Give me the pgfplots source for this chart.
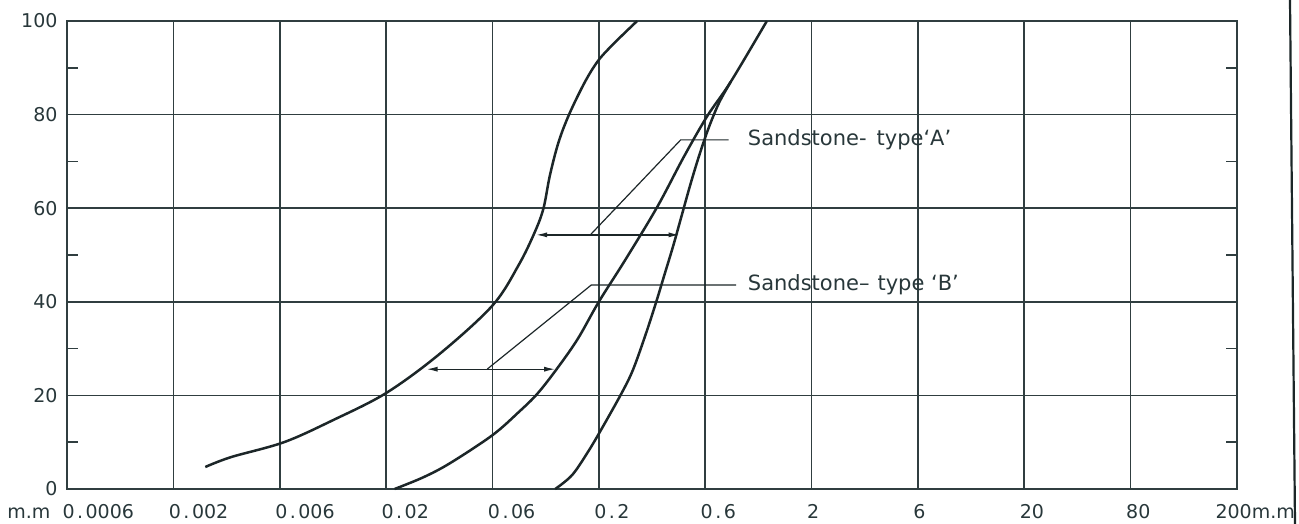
\documentclass[border=0pt]{standalone}
\usepackage{fontspec}
\setmainfont{DejaVu Sans}
\usepackage{pgfplots}
\pgfplotsset{compat=1.18}
\usetikzlibrary{arrows.meta}
\definecolor{ink}{RGB}{28,38,40}
\definecolor{gridc}{RGB}{48,62,64}
\definecolor{txt}{RGB}{40,55,58}
\newcommand{\pd}{\kern2.5pt.\kern2.5pt}
\begin{document}
\begin{tikzpicture}
\begin{axis}[
  at={(0,0)}, anchor=south west,
  scale only axis, width=1170pt, height=468pt,
  xmin=0, xmax=11, ymin=0, ymax=100,
  xtick={0,...,11},
  xticklabels={{\llap{m.m\ \ }0\pd0006},0\pd002,0\pd006,0\pd02,0\pd06,0\pd2,0\pd6,2,6,20,80,{\hspace*{-17pt}200m.m}},
  ytick={0,20,...,100},
  minor ytick={10,30,50,70,90},
  grid=major,
  major grid style={line width=1.7pt, draw=gridc},
  axis line style={line width=1.9pt, draw=gridc},
  major tick length=0pt,
  minor tick length=11pt,
  tick align=inside,
  minor tick style={line width=1.6pt, draw=gridc},
  ticklabel style={font=\fontsize{19}{21}\selectfont, text=txt},
  xticklabel style={anchor=north west, xshift=-8pt, yshift=-12pt},
  yticklabel style={anchor=east, xshift=-6pt},
  /pgf/number format/assume math mode=true,
  clip=false,
]
% Curve 1 (fine-grained)
\addplot[ink, line width=2.5pt, smooth, tension=0.55] coordinates {
(1.30,4.7) (1.54,6.8) (2.04,10.0) (2.50,14.7) (3.00,20.5) (3.50,28.8)
(4.00,39.2) (4.25,48.0) (4.40,55.0) (4.48,60.0) (4.54,67.0) (4.62,74.0)
(4.72,80.0) (4.87,87.0) (5.00,91.7) (5.16,95.6) (5.36,100)
};
% Curve 2 (middle)
\addplot[ink, line width=2.5pt, smooth, tension=0.55] coordinates {
(3.08,0) (3.35,2.5) (3.60,5.5) (4.00,11.5) (4.25,16.5) (4.42,20.3) (4.60,25.5)
(4.80,32.0) (5.00,40.0) (5.25,49.0) (5.55,60.3) (5.80,71.0) (6.02,79.7)
(6.24,87.0) (6.58,100)
};
% Curve 3 (coarse)
\addplot[ink, line width=2.5pt, smooth, tension=0.55] coordinates {
(4.59,0) (4.75,3.0) (4.90,8.0) (5.02,12.6) (5.21,20.3) (5.32,25.4) (5.44,33.0)
(5.54,40.0) (5.62,46.0) (5.70,52.0) (5.78,58.5) (5.86,65.0) (5.94,71.0)
(6.03,77.0) (6.13,82.5) (6.24,87.0)
};
% Annotations
\draw[ink, line width=1.3pt, {Latex[length=11pt,width=5pt]}-{Latex[length=11pt,width=5pt]}]
  (axis cs:4.41,54.3) -- (axis cs:5.76,54.3);
\draw[ink, line width=1.2pt] (axis cs:4.92,54.3) -- (axis cs:5.77,74.6) -- (axis cs:6.22,74.6);
\node[anchor=west, text=txt, font=\fontsize{21}{23}\selectfont, inner sep=0pt] at (axis cs:6.40,74.6) {Sandstone-\hspace{10pt}type‘A’};
\draw[ink, line width=1.3pt, {Latex[length=11pt,width=5pt]}-{Latex[length=11pt,width=5pt]}]
  (axis cs:3.38,25.6) -- (axis cs:4.59,25.6);
\draw[ink, line width=1.2pt] (axis cs:3.95,25.6) -- (axis cs:4.93,43.6) -- (axis cs:6.29,43.6);
\node[anchor=west, text=txt, font=\fontsize{21}{23}\selectfont, inner sep=0pt] at (axis cs:6.40,43.6) {Sandstone–\hspace{8pt}type ‘B’};
\end{axis}
\draw[line width=2.2pt, ink] (1223pt,489pt) -- (1228pt,-35pt);
\pgfresetboundingbox
\path[use as bounding box] (-67pt,-35pt) rectangle (1232pt,489pt);
\end{tikzpicture}
\end{document}
